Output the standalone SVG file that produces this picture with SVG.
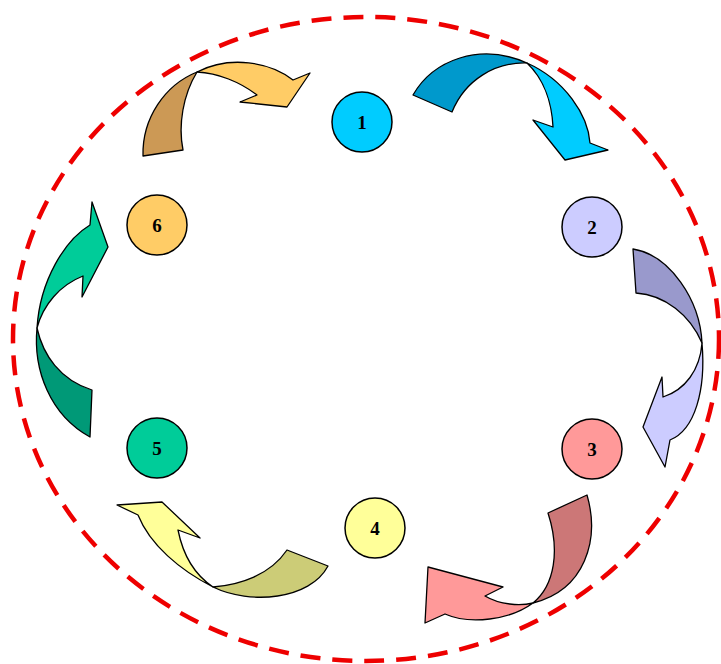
<svg xmlns="http://www.w3.org/2000/svg" width="721" height="664" viewBox="0 0 721 664">
<style>
.a{stroke:#000;stroke-width:1.3;stroke-linejoin:round}
.n{stroke:#000;stroke-width:1.5}
.t{font-family:"Liberation Serif","Times New Roman",serif;font-weight:bold;font-size:19px;text-anchor:middle;fill:#000}
</style>
<rect width="721" height="664" fill="#fff"/>
<ellipse cx="366" cy="339" rx="353" ry="322" fill="none" stroke="#EE0000" stroke-width="4.5" stroke-dasharray="20,12"/>
<g id="connectors">
<g id="arrow-6-1">
<path class="a" fill="#CC9955" d="M143,156 L183,150 C178,125 183,95 197,72 C165,85 142,118 143,156 Z"/>
<path class="a" fill="#FFCC66" d="M197,72 C230,55 270,62 293,80 L310,73 L287,107 L240,102 L257,95 C240,82 218,73 197,72 Z"/>
</g>
<g id="arrow-1-2">
<path class="a" fill="#0099CC" d="M413,95 C433,60 480,42 527,63 C495,62 465,80 452,112 Z"/>
<path class="a" fill="#00CCFF" d="M527,63 C565,80 588,115 590,143 L608,150 L565,160 L533,120 L553,127 C552,105 545,80 527,63 Z"/>
</g>
<g id="arrow-2-3">
<path class="a" fill="#9999CC" d="M633,249 C670,255 700,300 702,343 C690,315 665,295 636,293 Z"/>
<path class="a" fill="#CCCCFF" d="M702,343 C706,390 695,430 670,440 L665,467 L643,427 L662,377 L663,397 C685,390 700,370 702,343 Z"/>
</g>
<g id="arrow-3-4">
<path class="a" fill="#CC7777" d="M587,495 C600,540 585,590 533,603 C555,585 560,550 548,513 Z"/>
<path class="a" fill="#FF9999" d="M533,603 C510,620 470,625 445,614 L425,623 L428,567 L503,587 L485,596 C500,605 520,606 533,603 Z"/>
</g>
<g id="arrow-4-5">
<path class="a" fill="#CCCC77" d="M328,566 C310,600 250,605 213,587 C240,585 270,575 287,550 Z"/>
<path class="a" fill="#FFFF99" d="M213,587 C180,570 150,545 138,515 L117,505 L162,502 L200,538 L178,530 C183,555 195,575 213,587 Z"/>
</g>
<g id="arrow-5-6">
<path class="a" fill="#009977" d="M90,437 C50,415 33,370 37,328 C43,355 60,380 92,390 Z"/>
<path class="a" fill="#00CC99" d="M37,328 C40,280 65,240 90,225 L92,202 L108,247 L82,297 L83,276 C60,285 43,305 37,328 Z"/>
</g>
</g>
<g id="node-1"><circle class="n" cx="362" cy="122" r="30" fill="#00CCFF"/><text class="t" x="362" y="129">1</text></g>
<g id="node-2"><circle class="n" cx="592" cy="227" r="30" fill="#CCCCFF"/><text class="t" x="592" y="234">2</text></g>
<g id="node-3"><circle class="n" cx="592" cy="449" r="30" fill="#FF9999"/><text class="t" x="592" y="456">3</text></g>
<g id="node-4"><circle class="n" cx="375" cy="528" r="30" fill="#FFFF99"/><text class="t" x="375" y="535">4</text></g>
<g id="node-5"><circle class="n" cx="157" cy="448" r="30" fill="#00CC99"/><text class="t" x="157" y="455">5</text></g>
<g id="node-6"><circle class="n" cx="157" cy="225" r="30" fill="#FFCC66"/><text class="t" x="157" y="232">6</text></g>
</svg>
